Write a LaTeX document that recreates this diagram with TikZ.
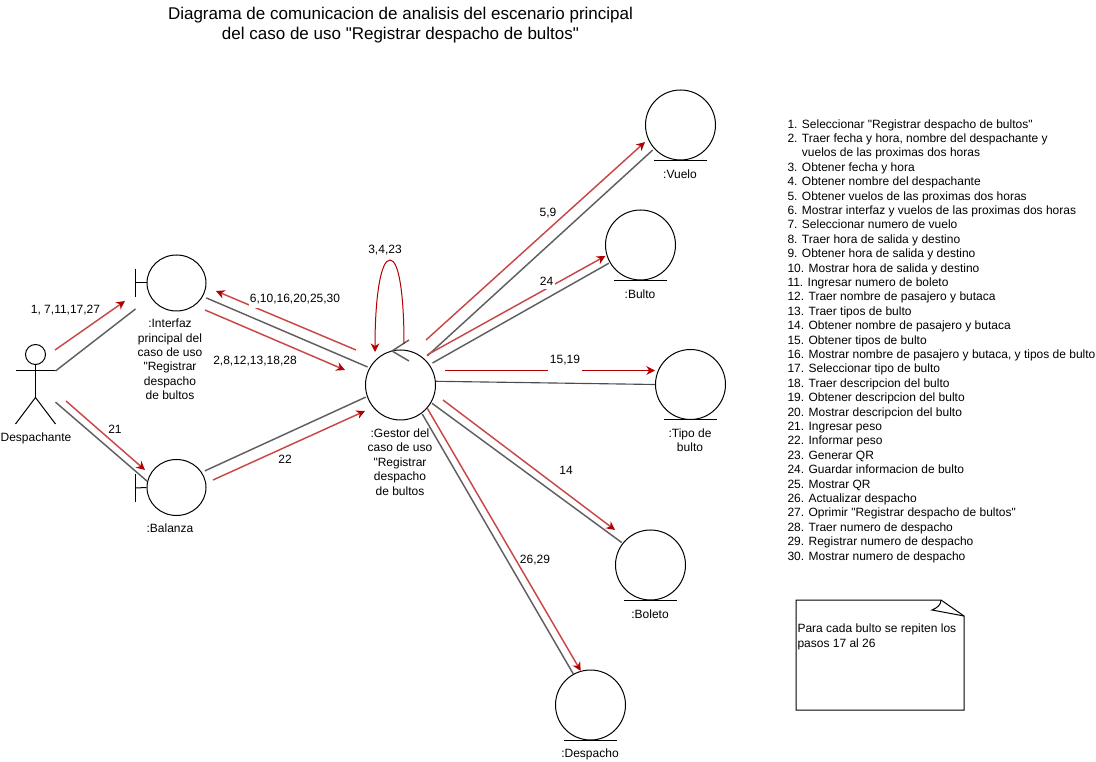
\documentclass[tikz,border=0pt]{standalone}
\usepackage{fontspec}
\setmainfont{Liberation Sans}[Ligatures=TeXOff]
\usetikzlibrary{arrows.meta, positioning, calc, shapes.geometric}
\definecolor{msgred}{HTML}{B20000}
\definecolor{msgsoft}{HTML}{C84848}
\definecolor{linkgray}{HTML}{606060}
\tikzset{
    lbl/.style={align=center, inner sep=0pt, font=\fontsize{9}{10.8}\selectfont},
    entity/.style={circle, draw, inner sep=0pt, minimum size=52.5pt},
    iface/.style={ellipse, draw, inner sep=0pt, minimum width=44.25pt, minimum height=42pt},
    link/.style={draw=linkgray, line width=1.1pt},
    msg/.style={draw=msgred, line width=0.75pt, -{Stealth[length=6.5pt, width=6.5pt, color=msgred]}},
    msgd/.style={msg, draw=msgsoft, line width=1.1pt},
    msgbg/.style={lbl, fill=white, inner xsep=1pt, inner ysep=3pt}
}

\begin{document}
\begin{tikzpicture}[x=0.75pt, y=-0.75pt, line width=0.75pt]
    \useasboundingbox (0, 0) rectangle (1096, 762);

    \node[lbl, font=\fontsize{12.75}{15}\selectfont] (title) at (400.5, 25) {Diagrama de comunicacion de analisis del escenario principal\\del caso de uso "Registrar despacho de bultos"};

    % actor
    \node[circle, draw, inner sep=0pt, minimum size=15pt] (actorh) at (35.5, 354.5) {};
    \node[inner sep=0pt, outer sep=0pt, minimum width=30pt, minimum height=39.75pt] (actor) at (35.5, 397.5) {};
    \draw (actor.north west) -- (actor.north east);
    \draw (actorh.south) -- (actor.center);
    \draw (actor.south west) -- (actor.center) -- (actor.south east);
    \node[lbl] (actorl) at (36, 438) {Despachante};

    % interfaces
    \node[iface] (interfaz) at (176.5, 283) {};
    \node[iface] (balanza) at (176.5, 487.5) {};
    \coordinate (intbar) at (135.5, 283);
    \coordinate (balbar) at (135.5, 488);
    \draw (intbar) -- (interfaz.west);
    \draw ([yshift=10.5pt]intbar) -- ([yshift=-10.5pt]intbar);
    \draw (balbar) -- (balanza.west);
    \draw ([yshift=10.5pt]balbar) -- ([yshift=-10.5pt]balbar);
    \node[lbl] (interfazl) at (170, 359.5) {:Interfaz\\principal del\\caso de uso\\"Registrar\\despacho\\de bultos};
    \node[lbl] (balanzal) at (170, 528) {:Balanza};

    % control
    \node[entity] (gestor) at (400.5, 385) {};
    \coordinate (ctla) at (409, 340);
    \coordinate (ctlb) at (392, 351);
    \coordinate (ctlc) at (409, 361);
    \draw[link] (ctla) -- (ctlb) -- (ctlc);
    \node[lbl] (gestorl) at (400, 462) {:Gestor del\\caso de uso\\"Registrar\\despacho\\de bultos};

    % entidades
    \node[entity] (vuelo) at (680.5, 125) {};
    \node[entity] (bulto) at (640.5, 245) {};
    \node[entity] (tipo) at (690.5, 384.5) {};
    \node[entity] (boleto) at (650.5, 565) {};
    \node[entity] (despacho) at (590.5, 705) {};
    \draw ([xshift=-20pt]vuelo.south) -- ([xshift=20pt]vuelo.south);
    \draw ([xshift=-20pt]bulto.south) -- ([xshift=20pt]bulto.south);
    \draw ([xshift=-20pt]tipo.south) -- ([xshift=20pt]tipo.south);
    \draw ([xshift=-20pt]boleto.south) -- ([xshift=20pt]boleto.south);
    \draw ([xshift=-20pt]despacho.south) -- ([xshift=20pt]despacho.south);
    \node[lbl] (vuelol) at (680, 174) {:Vuelo};
    \node[lbl] (bultol) at (640, 294) {:Bulto};
    \node[lbl] (tipol) at (690, 440) {:Tipo de\\bulto};
    \node[lbl] (boletol) at (650, 614) {:Boleto};
    \node[lbl] (despachol) at (590, 754) {:Despacho};

    % enlaces
    \coordinate (intbot) at (135.5, 309);
    \draw[link] (actor.north east) -- (intbot);
    \draw[link] (actor.-13) -- (balanza.168);
    \draw[link, shorten <=2.7pt, shorten >=1.5pt] (interfaz.-27) -- (gestor.151);
    \draw[link, shorten <=2.5pt, shorten >=1pt] (balanza.31) -- (gestor.199);
    \draw[link, shorten <=3pt, shorten >=1.5pt] (gestor.48) -- (vuelo.222);
    \draw[link, shorten <=2.5pt, shorten >=0.7pt] (gestor.35) -- (bulto.210);
    \draw[link, draw=black!70, line width=0.85pt] (gestor.6) -- (tipo.west);
    \draw[link, shorten <=0.7pt, shorten >=0.7pt] (gestor.-30) -- (boleto.142);
    \draw[link, shorten <=0.7pt] (gestor.-53) -- (despacho.119);

    % mensajes
    \coordinate (m1a) at (55, 350);
    \coordinate (m1b) at (125, 301);
    \coordinate (m21a) at (66, 401);
    \coordinate (m21b) at (145, 470);
    \coordinate (m6a) at (356, 350);
    \coordinate (m6b) at (216, 291);
    \coordinate (m2a) at (205, 310);
    \coordinate (m2b) at (345, 370);
    \coordinate (m22a) at (213, 480);
    \coordinate (m22b) at (365, 411);
    \coordinate (m5a) at (426, 340);
    \coordinate (m5b) at (645, 142);
    \coordinate (m24a) at (427, 355);
    \coordinate (m15a) at (445, 370.5);
    \coordinate (m15b) at (655, 370.5);
    \coordinate (m14a) at (443, 400);
    \coordinate (m14b) at (615, 530);
    \coordinate (selfa) at (404, 344);
    \coordinate (selfb) at (375, 352);
    \draw[msgd] (m1a) -- (m1b);
    \draw[msgd] (m21a) -- (m21b);
    \draw[msgd] (m6a) -- (m6b);
    \draw[msgd] (m2a) -- (m2b);
    \draw[msgd] (m22a) -- (m22b);
    \draw[msgd] (m5a) -- (m5b);
    \draw[msgd, shorten >=1pt] (m24a) -- (bulto.197);
    \draw[msg, line width=0.9pt] (m15a) -- (m15b);
    \draw[msgd] (m14a) -- (m14b);
    \draw[msgd] (gestor.-41) -- (despacho.106);
    \draw[msg] (selfa) .. controls (404, 295) and (399, 260) .. (390, 260) .. controls (381, 260) and (375, 295) .. (selfb);

    \node[lbl] (t1) at (65.5, 310) {1, 7,11,17,27};
    \node[lbl] (t21) at (115, 429.5) {21};
    \node[lbl] (t22) at (285, 459.5) {22};
    \node[msgbg] (t6) at (295, 299.5) {6,10,16,20,25,30};
    \node[lbl] (t2) at (255, 361) {2,8,12,13,18,28};
    \node[lbl] (t3) at (385, 250) {3,4,23};
    \node[lbl] (t5) at (548, 213) {5,9};
    \node[msgbg] (t24) at (546.5, 281) {24};
    \node[msgbg, inner xsep=1.5pt, inner ysep=6pt] (t15) at (565, 360.5) {15,19};
    \node[lbl] (t14) at (566, 470) {14};
    \node[lbl] (t26) at (535, 560) {26,29};

    % lista de pasos
    \node[lbl, align=left, anchor=north west] (pasos) at (787, 119) {1. Seleccionar "Registrar despacho de bultos"\\
2. Traer fecha y hora, nombre del despachante y\\
\phantom{2. }vuelos de las proximas dos horas\\
3. Obtener fecha y hora\\
4. Obtener nombre del despachante\\
5. Obtener vuelos de las proximas dos horas\\
6. Mostrar interfaz y vuelos de las proximas dos horas\\
7. Seleccionar numero de vuelo\\
8. Traer hora de salida y destino\\
9. Obtener hora de salida y destino\\
10. Mostrar hora de salida y destino\\
11. Ingresar numero de boleto\\
12. Traer nombre de pasajero y butaca\\
13. Traer tipos de bulto\\
14. Obtener nombre de pasajero y butaca\\
15. Obtener tipos de bulto\\
16. Mostrar nombre de pasajero y butaca, y tipos de bulto\\
17. Seleccionar tipo de bulto\\
18. Traer descripcion del bulto\\
19. Obtener descripcion del bulto\\
20. Mostrar descripcion del bulto\\
21. Ingresar peso\\
22. Informar peso\\
23. Generar QR\\
24. Guardar informacion de bulto\\
25. Mostrar QR\\
26. Actualizar despacho\\
27. Oprimir "Registrar despacho de bultos"\\
28. Traer numero de despacho\\
29. Registrar numero de despacho\\
30. Mostrar numero de despacho};

    % nota
    \draw (796, 600) -- (941, 600) -- (964, 616) -- (964, 710) -- (796, 710) -- cycle;
    \draw (941, 600) .. controls (941, 605) and (937, 608) .. (932, 610) -- (964, 616);
    \node[lbl, font=\fontsize{9}{11.25}\selectfont, align=left, anchor=north west] (nota) at (797, 623.5) {Para cada bulto se repiten los\\pasos 17 al 26};
\end{tikzpicture}
\end{document}
